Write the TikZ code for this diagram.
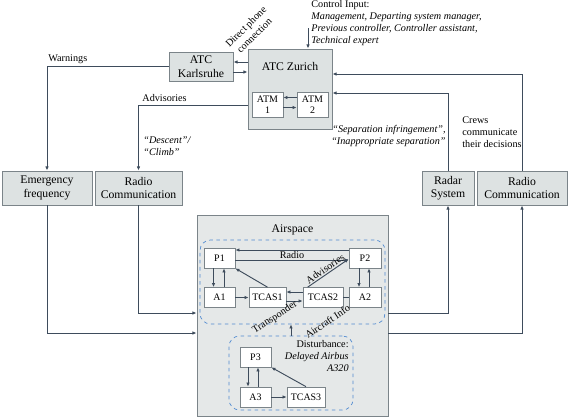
\documentclass[tikz,border=0pt]{standalone}
\usepackage{fontspec}
\setmainfont{Liberation Serif}
\usepackage{tikz}
\usetikzlibrary{arrows.meta, calc}

\definecolor{boxfill}{HTML}{DDE2E2}
\definecolor{airfill}{HTML}{E5E8E8}
\definecolor{boxline}{HTML}{7B8489}
\definecolor{wire}{HTML}{3E4C5C}
\definecolor{grpline}{HTML}{4F8AD0}

\tikzset{
   sysbox/.style={draw=boxline, fill=boxfill, line width=0.8pt, align=center,
      inner sep=1pt, font=\fontsize{10}{11.5}\selectfont},
   unit/.style={draw=boxline, fill=white, line width=0.6pt, align=center,
      inner sep=1pt, minimum height=0.6cm, font=\fontsize{8.5}{9.5}\selectfont},
   arr/.style={draw=wire, line width=0.8pt, -{Latex[length=3.5pt,width=3pt]}},
   ln/.style={draw=wire, line width=0.8pt},
   lbl/.style={font=\fontsize{8.7}{10.2}\selectfont, inner sep=1pt},
   grp/.style={draw=grpline, dashed, rounded corners=9pt, line width=0.6pt},
}

\begin{document}
\begin{tikzpicture}[x=0.03cm, y=-0.03cm]
   \useasboundingbox (0,0) rectangle (573,418);
   % control centres
   \node[sysbox, minimum width=1.92cm, minimum height=0.87cm] (kar) at (201,66.5)
      {ATC\\Karlsruhe};
   \node[sysbox, minimum width=2.52cm, minimum height=2.4cm] (zur) at (290,89) {};
   \node[font=\fontsize{10}{11.5}\selectfont] (zurname) at ($(zur.north)+(0,18)$) {ATC Zurich};
   \node[unit, minimum width=0.93cm, minimum height=0.75cm] (atm1) at (267.5,104.5) {ATM\\1};
   \node[unit, minimum width=0.93cm, minimum height=0.75cm] (atm2) at (312.5,104.5) {ATM\\2};
   \draw[arr] ($(kar.east -| zur.west)+(0,-4.5)$) -- ($(kar.east)+(0,-4.5)$);
   \draw[arr] ($(kar.east)+(0,5.5)$) -- ($(kar.east -| zur.west)+(0,5.5)$);
   \draw[arr] ($(atm2.west)+(0,-7)$) -- ($(atm1.east)+(0,-7)$);
   \draw[arr] ($(atm1.east)+(0,3)$) -- ($(atm2.west)+(0,3)$);
   \node[lbl, rotate=45, align=center] (phone) at (250,31) {Direct phone\\connection};

   % control input
   \node[lbl, anchor=north west, align=left] (ctrl) at (310,-1)
      {Control Input:\\
       \textit{Management, Departing system manager,}\\
       \textit{Previous controller, Controller assistant,}\\
       \textit{Technical expert}};
   \coordinate (ctrlin) at (308,28);
   \draw[arr] (ctrlin) -- (ctrlin |- zur.north);

   % channels
   \node[sysbox, minimum width=2.7cm, minimum height=1.02cm] (emf) at (47,188)
      {Emergency\\frequency};
   \node[sysbox, minimum width=2.61cm, minimum height=1.02cm] (rcl) at (138.5,188)
      {Radio\\Communication};
   \node[sysbox, minimum width=1.56cm, minimum height=1.02cm] (radar) at (448,188)
      {Radar\\System};
   \node[sysbox, minimum width=2.7cm, minimum height=1.02cm] (rcr) at (522,188)
      {Radio\\Communication};

   \draw[arr] (kar.west) -| (emf.north);
   \node[lbl, anchor=south west] (warn) at (47,65) {Warnings};
   \draw[arr] ($(zur.west)+(0,16)$) -| (rcl.north);
   \node[lbl, anchor=south west] (adv) at (141,103) {Advisories};
   \node[lbl, anchor=north west, align=left] (climb) at (142,135)
      {\textit{``Descent''/}\\\textit{``Climb''}};
   \draw[arr] (radar.north) |- ($(zur.east)+(0,4)$);
   \draw[arr] (rcr.north) |- ($(zur.east)+(0,-15)$);
   \node[lbl, anchor=north east, align=right] (sep) at (447,124)
      {\textit{``Separation infringement'',}\\\textit{``Inappropriate separation''}};
   \node[lbl, anchor=north west, align=left] (crews) at (461,115)
      {Crews\\communicate\\their decisions};

   % airspace
   \node[draw=boxline, fill=airfill, line width=0.8pt, minimum width=5.73cm,
      minimum height=6.03cm] (air) at (292.5,315.5) {};
   \node[font=\fontsize{10}{11.5}\selectfont] (airname) at ($(air.north)+(0,15)$) {Airspace};
   \node[grp, minimum width=5.55cm, minimum height=2.52cm] (up) at (292.5,282) {};
   \node[grp, minimum width=3.72cm, minimum height=2.22cm] (low) at (291,373) {};

   \draw[arr] (emf.south) |- ($(air.west)+(0,17.5)$);
   \draw[arr] (rcl.south) |- ($(air.west)+(0,-2.5)$);
   \draw[arr] ($(air.east)+(0,-2)$) -| (radar.south);
   \draw[arr] ($(air.east)+(0,17.5)$) -| (rcr.south);

   % aircraft 1 and 2
   \node[unit, minimum width=0.93cm] (p1) at (219.5,258) {P1};
   \node[unit, minimum width=0.96cm] (p2) at (365,258) {P2};
   \node[unit, minimum width=0.93cm] (a1) at (219.5,297.5) {A1};
   \node[unit, minimum width=1.11cm] (tcas1) at (267.5,297.5) {TCAS1};
   \node[unit, minimum width=1.2cm] (tcas2) at (323,297.5) {TCAS2};
   \node[unit, minimum width=0.96cm] (a2) at (365,297.5) {A2};

   \draw[arr] ($(p2.west)+(0,-8)$) -- ($(p1.east)+(0,-8)$);
   \draw[arr] ($(p1.east)+(0,2)$) -- ($(p2.west)+(0,2)$);
   \node[lbl, inner sep=0pt] (radio) at ($(p1.east)!0.5!(p2.west)+(0,-3)$) {Radio};
   \draw[arr] ($(p1.south)+(-6,0)$) -- ($(a1.north)+(-6,0)$);
   \draw[arr] ($(a1.north)+(4.5,0)$) -- ($(p1.south)+(4.5,0)$);
   \draw[arr] ($(p2.south)+(-6,0)$) -- ($(a2.north)+(-6,0)$);
   \draw[arr] ($(a2.north)+(4,0)$) -- ($(p2.south)+(4,0)$);
   \draw[arr] (a1) -- (tcas1);
   \draw[ln] (a2) -- (tcas2);
   \draw[arr] ($(tcas2.west)+(0,-5.5)$) -- ($(tcas1.east)+(0,-5.5)$);
   \draw[arr] ($(tcas1.east)+(0,3.5)$) -- ($(tcas2.west)+(0,3.5)$);
   \draw[arr] (tcas1.north) -- (p1.south east);
   \draw[arr] ($(tcas2.north west)+(5,0)$) -- node[lbl, midway, above, sloped] {Advisories}
      ($(p2.west)+(0,1)$);
   \node[lbl, rotate=33] (trans) at (275,317.5) {Transponder};
   \node[lbl, rotate=34] (info) at (327.5,321.5) {Aircraft Info};

   % disturbance
   \node[unit, minimum width=0.93cm] (p3) at (255.5,357) {P3};
   \node[unit, minimum width=0.93cm] (a3) at (255.5,397) {A3};
   \node[unit, minimum width=1.14cm] (tcas3) at (306,397) {TCAS3};
   \draw[arr] ($(p3.south)+(-7.5,0)$) -- ($(a3.north)+(-7.5,0)$);
   \draw[arr] ($(a3.north)+(2.5,0)$) -- ($(p3.south)+(2.5,0)$);
   \draw[arr] (a3) -- (tcas3);
   \draw[arr] (tcas3.north) -- (p3.south east);
   \node[lbl, anchor=north east, align=right] (dist) at (350,339)
      {Disturbance:\\\textit{Delayed Airbus}\\\textit{A320}};
   \draw[arr] (low.north) -- (low.north |- up.south);
\end{tikzpicture}
\end{document}
